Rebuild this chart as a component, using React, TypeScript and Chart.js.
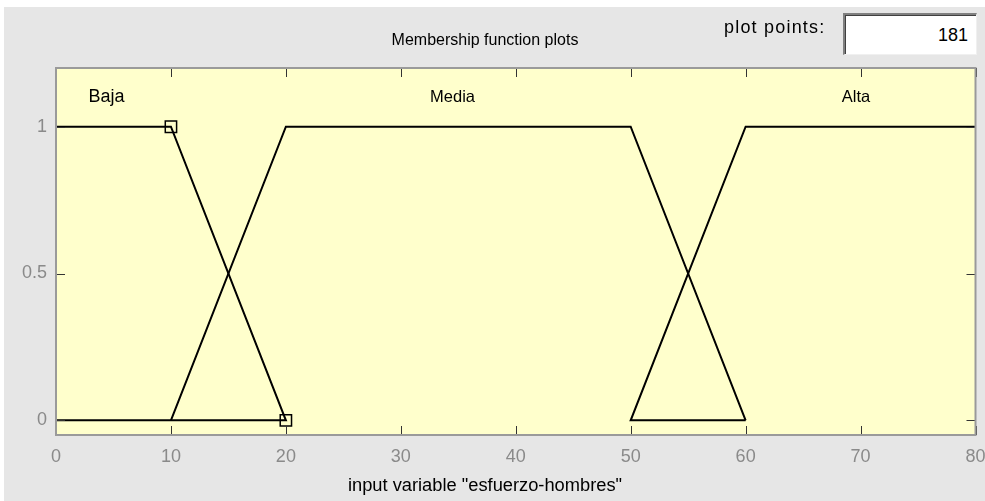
import React, { useEffect, useRef } from 'react';
import { Chart, registerables } from 'chart.js';

Chart.register(...registerables);

// ---- data ----
const xTicks = [0, 10, 20, 30, 40, 50, 60, 70, 80];
const yTicks = [0, 0.5, 1];

// Membership functions (trapezoids) as drawn in the reference
const bajaX = [0, 10, 20, 0];
const bajaY = [1, 1, 0, 0];
const mediaX = [10, 20, 50, 60];
const mediaY = [0, 1, 1, 0];
const altaX = [60, 50, 60, 80];
const altaY = [0, 0, 1, 1];

// Selected MF handles (Baja)
const selX = [10, 20];
const selY = [1, 0];

const mfNames = ['Baja', 'Media', 'Alta'];
const mfLabelX = [4.4, 34.5, 69.6];
const mfLabelY = [1.1, 1.1, 1.1];

const chartTitle = 'Membership function plots';
const xTitle = 'input variable "esfuerzo-hombres"';
const plotPointsLabel = 'plot points:';
const plotPointsValue = '181';

const FONT = '"Liberation Sans", Arial, sans-serif';

const toPts = (xs: number[], ys: number[]) => xs.map((x, i) => ({ x, y: ys[i] }));

const framePlugin = {
  id: 'frame',
  beforeDraw(chart: any) {
    const { ctx, width, height, chartArea: a } = chart;
    ctx.save();
    ctx.fillStyle = '#ffffff';
    ctx.fillRect(0, 0, width, height);
    ctx.fillStyle = '#e6e6e6';
    ctx.fillRect(4, 7, width - 4, height - 7);
    ctx.fillStyle = '#ffffcc';
    ctx.fillRect(a.left, a.top, a.right - a.left, a.bottom - a.top);
    ctx.restore();
  },
  afterDatasetsDraw(chart: any) {
    const { ctx, chartArea: a, scales } = chart;
    const xs = scales.x;
    const ys = scales.y;
    ctx.save();
    // ticks (inward)
    ctx.strokeStyle = '#333333';
    ctx.lineWidth = 1;
    const tl = 9;
    xTicks.forEach((v) => {
      const px = Math.round(xs.getPixelForValue(v)) + 0.5;
      ctx.beginPath();
      ctx.moveTo(px, a.bottom);
      ctx.lineTo(px, a.bottom - tl);
      ctx.moveTo(px, a.top);
      ctx.lineTo(px, a.top + tl);
      ctx.stroke();
    });
    yTicks.forEach((v) => {
      const py = Math.round(ys.getPixelForValue(v)) + 0.5;
      ctx.beginPath();
      ctx.moveTo(a.left, py);
      ctx.lineTo(a.left + tl, py);
      ctx.moveTo(a.right, py);
      ctx.lineTo(a.right - tl, py);
      ctx.stroke();
    });
    // border
    ctx.strokeStyle = '#9a9a9a';
    ctx.lineWidth = 2;
    ctx.strokeRect(a.left, a.top, a.right - a.left, a.bottom - a.top);
    ctx.restore();
  },
  afterDraw(chart: any) {
    const { ctx, scales } = chart;
    const xs = scales.x;
    const ys = scales.y;
    ctx.save();
    ctx.fillStyle = '#000000';
    ctx.textAlign = 'center';
    ctx.textBaseline = 'middle';
    ctx.font = `16px ${FONT}`;
    ctx.fillText(chartTitle, 485, 41);
    ctx.font = `18.3px ${FONT}`;
    ctx.fillText(xTitle, 485, 486);
    mfNames.forEach((n, i) => {
      ctx.font = i === 0 ? `18px ${FONT}` : `16.5px ${FONT}`;
      ctx.fillText(n, xs.getPixelForValue(mfLabelX[i]), ys.getPixelForValue(mfLabelY[i]));
    });
    ctx.restore();
  },
};

export default function App() {
  const ref = useRef<HTMLCanvasElement | null>(null);

  useEffect(() => {
    if (!ref.current) return;
    const lineDs = (label: string, xs: number[], ys: number[]) => ({
      label,
      data: toPts(xs, ys),
      showLine: true,
      borderColor: '#000000',
      borderWidth: 2,
      pointRadius: 0,
      fill: false,
      tension: 0,
    });
    const chart = new Chart(ref.current, {
      type: 'scatter',
      data: {
        datasets: [
          lineDs('Baja', bajaX, bajaY),
          lineDs('Media', mediaX, mediaY),
          lineDs('Alta', altaX, altaY),
          {
            label: 'selected',
            data: toPts(selX, selY),
            showLine: false,
            pointStyle: 'rect',
            pointRadius: 8,
            pointBorderWidth: 1.5,
            pointBorderColor: '#000000',
            pointBackgroundColor: 'rgba(0,0,0,0)',
            clip: false,
          } as any,
        ],
      },
      options: {
        animation: false,
        responsive: false,
        layout: { padding: { top: 68, right: 6, left: 0, bottom: 0 } },
        plugins: {
          legend: { display: false },
          tooltip: { enabled: false },
          title: { display: false },
        },
        scales: {
          x: {
            type: 'linear',
            min: 0,
            max: 80,
            afterBuildTicks: (s: any) => {
              s.ticks = xTicks.map((v) => ({ value: v }));
            },
            afterFit: (s: any) => {
              s.height = 66;
              s.paddingLeft = 0;
              s.paddingRight = 0;
            },
            ticks: {
              color: '#8a8a8a',
              font: { family: FONT, size: 18 },
              padding: 11,
              maxRotation: 0,
              autoSkip: false,
              callback: (v: any) => String(v),
            },
            grid: { display: false, drawTicks: false },
            border: { display: false },
          },
          y: {
            type: 'linear',
            min: -0.05,
            max: 1.2,
            afterBuildTicks: (s: any) => {
              s.ticks = yTicks.map((v) => ({ value: v }));
            },
            afterFit: (s: any) => {
              s.width = 56;
              s.paddingTop = 0;
              s.paddingBottom = 0;
            },
            ticks: {
              color: '#8a8a8a',
              font: { family: FONT, size: 18 },
              padding: 9,
              autoSkip: false,
              callback: (v: any) => String(v),
            },
            grid: { display: false, drawTicks: false },
            border: { display: false },
          },
        },
      },
      plugins: [framePlugin],
    });
    return () => chart.destroy();
  }, []);

  return (
    <div style={{ position: 'absolute', left: 0, top: 0, width: 985, height: 501 }}>
      <canvas ref={ref} width={985} height={501} style={{ display: 'block' }} />
      <div
        style={{
          position: 'absolute',
          left: 724,
          top: 17,
          fontFamily: FONT,
          fontSize: 18,
          letterSpacing: 1.2,
          color: '#000',
          lineHeight: '20px',
          whiteSpace: 'nowrap',
        }}
      >
        {plotPointsLabel}
      </div>
      <div
        style={{
          position: 'absolute',
          left: 843,
          top: 13,
          width: 134,
          height: 42,
          boxSizing: 'border-box',
          background: '#ffffff',
          borderTop: '2px solid #808080',
          borderLeft: '2px solid #808080',
          borderRight: '1px solid #f0f0f0',
          borderBottom: '1px solid #f0f0f0',
          boxShadow: 'inset 1px 1px 0 #404040',
          fontFamily: FONT,
          fontSize: 18,
          color: '#000',
          textAlign: 'right',
          paddingRight: 8,
          lineHeight: '40px',
        }}
      >
        {plotPointsValue}
      </div>
    </div>
  );
}
